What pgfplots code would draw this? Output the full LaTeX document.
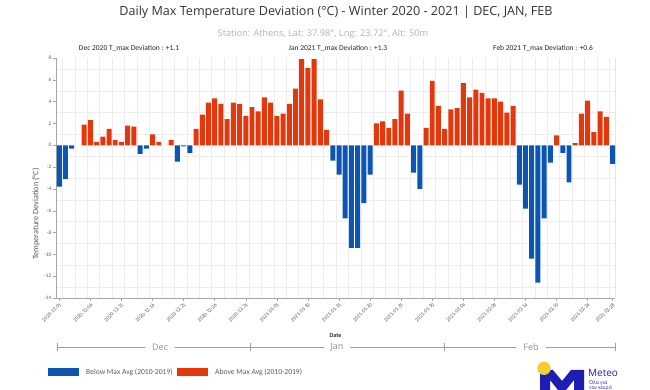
\documentclass[border=0pt]{standalone}
\usepackage{fontspec}
\setmainfont{Open Sans}
\newfontfamily\calf{Carlito}
\usepackage{pgfplots}
\pgfplotsset{compat=1.18}
\definecolor{barblue}{RGB}{10,86,178}
\definecolor{barred}{RGB}{228,56,12}
\definecolor{logoblue}{RGB}{30,30,180}
\definecolor{sunyellow}{RGB}{242,206,50}
\definecolor{txtgray}{RGB}{90,90,90}
\begin{document}
\begin{tikzpicture}[x=1pt,y=1pt]
\path[use as bounding box] (0,0) rectangle (650,390);
\begin{axis}[at={(56pt,92pt)}, anchor=south west, width=559pt, height=240pt, scale only axis,
  xmin=-0.53, xmax=89.4, ymin=-14, ymax=8,
  axis x line*=bottom, axis y line*=left,
  axis line style={gray!70, line width=0.5pt},
  ytick={-14,-12,...,8},
  xtick={0,5,...,85,89},
  xticklabels={2020-12-01,2020-12-06,2020-12-11,2020-12-16,2020-12-21,2020-12-26,2020-12-31,2021-01-05,2021-01-10,2021-01-15,2021-01-20,2021-01-25,2021-01-30,2021-02-04,2021-02-09,2021-02-14,2021-02-19,2021-02-24,2021-02-28},
  /pgf/number format/assume math mode=true,
  ticklabel style={font=\calf\fontsize{5.3}{6}\selectfont, text=txtgray},
  x tick label style={rotate=45, anchor=north east, inner sep=1pt},
  y tick label style={inner sep=1.5pt},
  tick align=outside, major tick length=3pt, minor tick length=0pt,
  tick style={gray!70, line width=0.4pt},
  minor ytick={-13,-11,...,7},
  minor xtick={0.5,2.5,...,88.5},
  yminorgrids=true, xminorgrids=true,
  minor grid style={gray!14, line width=0.4pt},
  clip=false,
]
\draw[gray!20, line width=0.4pt] (rel axis cs:1,0) -- (rel axis cs:1,1);
\addplot[ybar, bar shift=0pt, bar width=0.8, fill=barblue, draw=none] coordinates {
(0,-3.8) (1,-3.1) (2,-0.3) (13,-0.8) (14,-0.3) (19,-1.5) (20,-0.1) (21,-0.7)
(44,-1.4) (45,-2.7) (46,-6.7) (47,-9.4) (48,-9.4) (49,-5.3) (50,-2.7) (57,-2.5) (58,-4.0)
(74,-3.6) (75,-5.8) (76,-10.4) (77,-12.6) (78,-6.7) (79,-1.6) (81,-0.7) (82,-3.4) (89,-1.7)};
\addplot[ybar, bar shift=0pt, bar width=0.8, fill=barred, draw=none] coordinates {
(4,1.9) (5,2.3) (6,0.3) (7,0.8) (8,1.5) (9,0.5) (10,0.3) (11,1.8) (12,1.7) (15,1.0) (16,0.3) (18,0.5)
(22,1.5) (23,2.8) (24,3.9) (25,4.3) (26,3.8) (27,2.4) (28,3.9) (29,3.8) (30,2.7)
(31,3.5) (32,3.1) (33,4.4) (34,3.9) (35,2.7) (36,2.9) (37,3.8) (38,5.2) (39,7.9) (40,7.1) (41,7.9) (42,4.2) (43,1.4)
(51,2.0) (52,2.2) (53,1.6) (54,2.4) (55,5.0) (56,2.9) (59,1.6) (60,5.9) (61,3.6)
(62,1.5) (63,3.3) (64,3.4) (65,5.7) (66,4.4) (67,5.1) (68,4.8) (69,4.3) (70,4.3) (71,4.0) (72,3.0) (73,3.6)
(80,0.9) (83,0.2) (84,2.9) (85,4.1) (86,1.2) (87,3.1) (88,2.6)};
\end{axis}
% titles
\node[text=black!80, font=\fontsize{12.6}{14}\selectfont] at (336,378) {Daily Max Temperature Deviation (°C) - Winter 2020 - 2021 | DEC, JAN, FEB};
\node[text=gray!60, font=\fontsize{9.2}{11}\selectfont] at (323,356) {Station: Athens, Lat: 37.98°, Lng: 23.72°, Alt: 50m};
\node[text=black!85, font=\calf\fontsize{7.5}{8}\selectfont] at (129,342) {Dec 2020 T\_max Deviation : +1.1};
\node[text=black!85, font=\calf\fontsize{7.5}{8}\selectfont] at (338,342) {Jan 2021 T\_max Deviation : +1.3};
\node[text=black!85, font=\calf\fontsize{7.5}{8}\selectfont] at (543,342) {Feb 2021 T\_max Deviation : +0.6};
% axis labels
\node[rotate=90, text=txtgray, font=\calf\fontsize{8.3}{9}\selectfont] at (36,176) {Temperature Deviation (°C)};
\node[text=black!85, font=\calf\bfseries\fontsize{6}{7}\selectfont] at (335.5,54.3) {Date};
% month brackets
\draw[gray!75, line width=0.5pt] (57,42.7) -- (615,42.7);
\foreach \xx in {57,250,444,615} \draw[gray!75, line width=0.5pt] (\xx,38.7) -- (\xx,46.7);
\node[fill=white, inner xsep=7pt, inner ysep=1pt, text=gray!85, font=\fontsize{9}{10}\selectfont] at (160,42.7) {Dec};
\node[fill=white, inner xsep=7pt, inner ysep=1pt, text=gray!85, font=\fontsize{9}{10}\selectfont] at (337,42.7) {Jan};
\node[fill=white, inner xsep=7pt, inner ysep=1pt, text=gray!85, font=\fontsize{9}{10}\selectfont] at (531,42.7) {Feb};
% legend
\fill[barblue] (48.3,14.3) rectangle (79,21.7);
\node[anchor=west, inner sep=0pt, text=txtgray, font=\calf\fontsize{7.6}{8}\selectfont] at (86,18) {Below Max Avg (2010-2019)};
\fill[barred] (177.3,14.3) rectangle (207.7,21.7);
\node[anchor=west, inner sep=0pt, text=txtgray, font=\calf\fontsize{7.6}{8}\selectfont] at (215,18) {Above Max Avg (2010-2019)};
% logo
\fill[logoblue] (540,0) -- (540,20) -- (553,20) -- (562,9) -- (571,20) -- (584,20) -- (584,0) -- (574,0) -- (574,10) -- (566,0) -- (558,0) -- (550,10) -- (550,0) -- cycle;
\fill[sunyellow] (544,21.7) circle (6.7);
\node[anchor=west, inner sep=0pt, text=logoblue, font=\fontsize{10}{11}\selectfont] at (588,17.5) {Meteo};
\node[anchor=west, inner sep=0pt, text=logoblue, font=\fontsize{5}{6}\selectfont] at (589,7.3) {Όλα για};
\node[anchor=west, inner sep=0pt, text=logoblue, font=\fontsize{5}{6}\selectfont] at (589,2.3) {τον καιρό};
\end{tikzpicture}
\end{document}
